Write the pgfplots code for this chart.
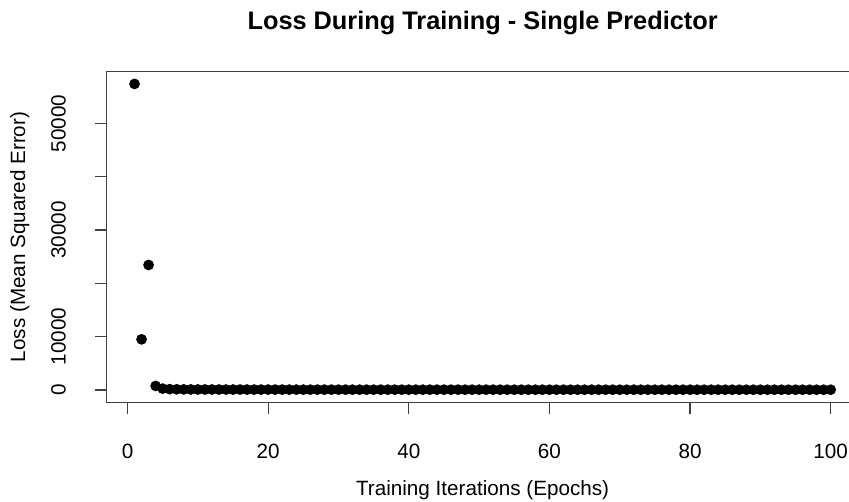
\documentclass[border=0pt]{standalone}
\usepackage{fontspec}
\setmainfont{Liberation Sans}
\usepackage{pgfplots}
\pgfplotsset{compat=1.18}
\begin{document}
\begin{tikzpicture}
\path[use as bounding box, clip] (-64.02pt,-59.22pt) rectangle (445.38pt,241.38pt);
\begin{axis}[
  at={(0,0)}, anchor=south west, scale only axis,
  width=451.1pt, height=198.4pt,
  xmin=-2.96, xmax=103.96, ymin=-2306, ymax=59680,
  xtick={0,20,...,100}, xticklabels={0,20,40,60,80,100},
  ytick={0,10000,...,50000}, yticklabels={0,10000,,30000,,50000},
  xtick pos=bottom, ytick pos=left,
  tick align=outside, major tick length=6.9pt,
  tick style={black!75, line width=0.7pt},
  axis line style={black!75, line width=0.7pt},
  /pgf/number format/assume math mode=true,
  tick label style={font=\fontsize{12.4}{14}\selectfont},
  xticklabel style={anchor=base}, xticklabel shift=26.7pt,
  yticklabel style={rotate=90, anchor=base}, yticklabel shift=17.8pt,
  scaled ticks=false,
  clip=false,
]
\addplot[only marks, mark=*, mark size=3pt, black] coordinates {
(1,57380) (2,9500) (3,23440) (4,760) (5,260) (6,160) (7,130) (8,115) (9,105) (10,100)
(11,96) (12,93) (13,90) (14,88) (15,86) (16,84) (17,82) (18,80) (19,79) (20,78)
(21,77) (22,76) (23,75) (24,74) (25,73) (26,72) (27,71) (28,70) (29,70) (30,69)
(31,68) (32,68) (33,67) (34,67) (35,66) (36,66) (37,65) (38,65) (39,64) (40,64)
(41,63) (42,63) (43,63) (44,62) (45,62) (46,62) (47,61) (48,61) (49,61) (50,60)
(51,60) (52,60) (53,60) (54,59) (55,59) (56,59) (57,59) (58,58) (59,58) (60,58)
(61,58) (62,58) (63,57) (64,57) (65,57) (66,57) (67,57) (68,56) (69,56) (70,56)
(71,56) (72,56) (73,56) (74,55) (75,55) (76,55) (77,55) (78,55) (79,55) (80,55)
(81,54) (82,54) (83,54) (84,54) (85,54) (86,54) (87,54) (88,54) (89,53) (90,53)
(91,53) (92,53) (93,53) (94,53) (95,53) (96,53) (97,53) (98,52) (99,52) (100,52)
};
\end{axis}
\node[anchor=base, font=\bfseries\fontsize{15.2}{18}\selectfont] at (225.55pt,223.8pt) {Loss During Training - Single Predictor};
\node[anchor=base, font=\fontsize{12.4}{14}\selectfont] at (225.55pt,-56.2pt) {Training Iterations (Epochs)};
\node[anchor=base, rotate=90, font=\fontsize{12.4}{14}\selectfont] at (-49pt,99.2pt) {Loss (Mean Squared Error)};
\end{tikzpicture}
\end{document}
